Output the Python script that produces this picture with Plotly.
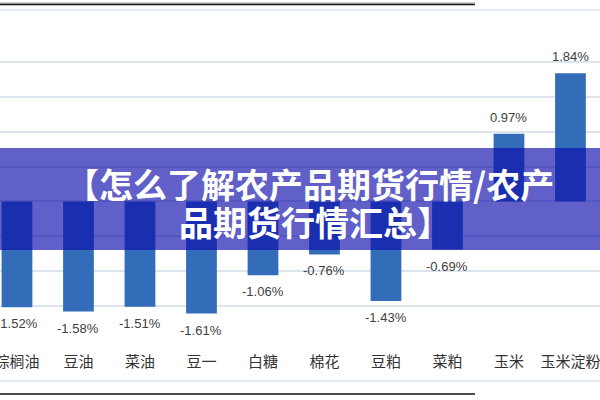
import plotly.graph_objects as go

categories = ["棕榈油", "豆油", "菜油", "豆一", "白糖", "棉花", "豆粕", "菜粕", "玉米", "玉米淀粉"]
changes = [-1.52, -1.58, -1.51, -1.61, -1.06, -0.76, -1.43, -0.69, 0.97, 1.84]
title_lines = ["【怎么了解农产品期货行情/农产", "品期货行情汇总】"]

W, H = 600, 400
T, B = 27, 59
PH = H - T - B


def py(p):
    return (H - B - p) / PH


fig = go.Figure()
fig.add_trace(go.Bar(
    x=categories, y=changes,
    marker=dict(color="#336cb8", line=dict(width=0)),
    width=0.5, hoverinfo="skip",
))

annotations = []
for c, v in zip(categories, changes):
    annotations.append(dict(
        x=c, y=v, xref="x", yref="y", text=f"{v:.2f}%", showarrow=False,
        xanchor="center", yanchor="middle", yshift=16.5 if v >= 0 else -16.5,
        font=dict(family="Liberation Sans", size=13, color="#404040"),
    ))

shapes = [
    dict(type="line", xref="paper", yref="paper", x0=0, x1=1, y0=py(10), y1=py(10),
         line=dict(color="#dce5ee", width=1.5), layer="below"),
    dict(type="line", xref="paper", yref="paper", x0=0, x1=1, y0=py(381), y1=py(381),
         line=dict(color="#dce5ee", width=1.5), layer="below"),
    dict(type="line", xref="paper", yref="paper", x0=0, x1=475 / W, y0=py(3), y1=py(3),
         line=dict(color="#999999", width=1)),
    dict(type="line", xref="paper", yref="paper", x0=0, x1=475 / W, y0=py(4.5), y1=py(4.5),
         line=dict(color="#111111", width=1.5)),
    dict(type="line", xref="paper", yref="paper", x0=0, x1=475 / W, y0=py(394), y1=py(394),
         line=dict(color="#111111", width=1.5)),
    dict(type="rect", xref="paper", yref="paper", x0=0, x1=1, y0=py(250), y1=py(148),
         fillcolor="rgba(14,14,172,0.66)", line=dict(width=0), layer="above"),
]

annotations += [
    dict(text=title_lines[0], xref="paper", yref="paper", x=309 / W, y=py(183),
         showarrow=False, xanchor="center", yanchor="middle",
         font=dict(family="Noto Sans CJK SC", size=34, color="white", weight="bold")),
    dict(text=title_lines[1], xref="paper", yref="paper", x=315 / W, y=py(221),
         showarrow=False, xanchor="center", yanchor="middle",
         font=dict(family="Noto Sans CJK SC", size=34, color="white", weight="bold")),
]

fig.update_layout(
    width=W, height=H,
    margin=dict(l=0, r=0, t=T, b=B, pad=0, autoexpand=False),
    paper_bgcolor="white", plot_bgcolor="white",
    showlegend=False,
    shapes=shapes, annotations=annotations,
    xaxis=dict(range=[-0.276, 9.48], showgrid=False, zeroline=False, showline=False,
               ticks="", ticklabelstandoff=10, automargin=False,
               tickfont=dict(family="Noto Sans CJK SC", size=15, color="#333333")),
    yaxis=dict(range=[-2.003, 2.503], dtick=0.5, tick0=0, showticklabels=False,
               showgrid=True, gridcolor="#dce5ee", gridwidth=1.5, automargin=False,
               zeroline=False, showline=False),
)

fig.write_html(
    "out.html",
    config={"displayModeBar": False},
    post_script="document.body.style.margin='0';document.body.style.overflow='hidden';",
)
